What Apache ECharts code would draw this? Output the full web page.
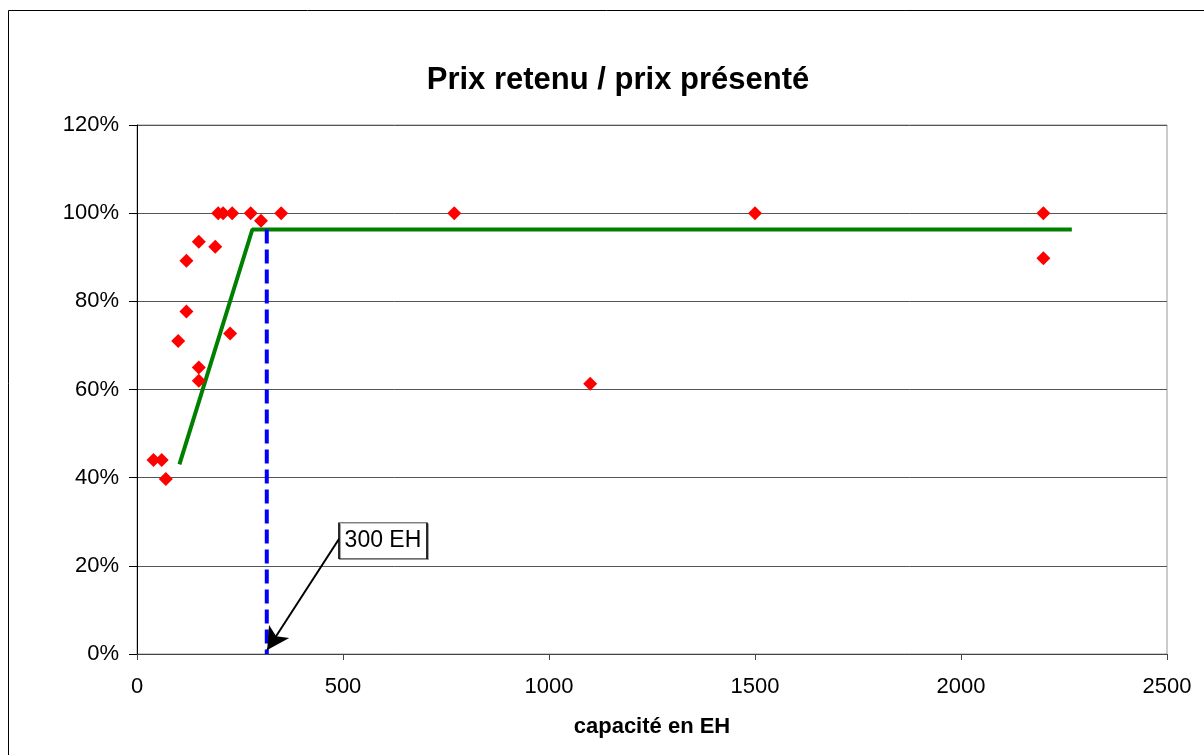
<!DOCTYPE html>
<html><head><meta charset="utf-8">
<script src="https://cdn.jsdelivr.net/npm/echarts@6/dist/echarts.min.js"></script>
<style>html,body{margin:0;padding:0;background:#fff}#c{width:1204px;height:755px}</style>
</head><body><div id="c"></div>
<script>
const capacity = [40, 60, 70, 100, 120, 120, 150, 150, 150, 190, 197, 209, 226, 231, 276, 301, 350, 770, 1100, 1500, 2200, 2200];
const ratio    = [44, 44, 39.7, 71, 77.7, 89.2, 93.5, 65, 62, 92.4, 100, 100, 72.7, 100, 100, 98.3, 100, 100, 61.3, 100, 100, 89.8];
const trendX = [103, 280, 2269];
const trendY = [43, 96.3, 96.3];
const thresholdX = 315;
const thresholdTop = 96.3;
const arrowFrom = [491, 26.2];
const arrowTo = [316, 0.9];
const labelPos = [597, 25.7];
const labelText = '300 EH';
const title = 'Prix retenu / prix présenté';
const xTitle = 'capacité en EH';

const FONT = 'Liberation Sans, Arial, sans-serif';
const chart = echarts.init(document.getElementById('c'));
chart.setOption({
  animation: false,
  backgroundColor: '#fff',
  title: { text: title, left: 613, top: 60, textAlign: 'center',
    textStyle: { fontFamily: FONT, fontSize: 31, fontWeight: 'bold', color: '#000' } },
  graphic: [{ type: 'rect', shape: { x: 8.5, y: 10.5, width: 1220, height: 800 },
    style: { fill: 'none', stroke: '#000', lineWidth: 1 }, silent: true, z: -1 }],
  grid: { left: 137, top: 125, width: 1030, height: 529, show: true, borderColor: '#999', borderWidth: 1 },
  xAxis: { type: 'value', min: 0, max: 2500, interval: 500,
    name: xTitle, nameLocation: 'middle', nameGap: 62,
    nameTextStyle: { fontFamily: FONT, fontSize: 22, fontWeight: 'bold', color: '#000' },
    axisLine: { show: true, lineStyle: { color: '#444', width: 1 } },
    axisTick: { show: true, length: 6, lineStyle: { color: '#444' } },
    axisLabel: { fontFamily: FONT, fontSize: 22, color: '#000', margin: 22, formatter: v => String(v) },
    splitLine: { show: false } },
  yAxis: { type: 'value', min: 0, max: 120, interval: 20,
    axisLine: { show: true, lineStyle: { color: '#000', width: 1 } },
    axisTick: { show: true, length: 8, lineStyle: { color: '#000' } },
    axisLabel: { fontFamily: FONT, fontSize: 22, color: '#000', formatter: '{value}%', margin: 18 },
    splitLine: { show: true, lineStyle: { color: '#555', width: 1 } } },
  series: [
    { type: 'line', data: trendX.map((x, i) => [x, trendY[i]]), symbol: 'none',
      lineStyle: { color: '#008000', width: 4 }, z: 2 },
    { type: 'line', data: [[thresholdX, thresholdTop], [thresholdX, 0]], symbol: 'none',
      lineStyle: { color: '#0000FF', width: 4, type: [14, 6] }, z: 3 },
    { type: 'scatter', data: capacity.map((x, i) => [x, ratio[i]]), symbol: 'diamond', symbolSize: 14,
      itemStyle: { color: '#FF0000', opacity: 1 }, z: 4,
      markLine: { silent: true, symbol: ['none', 'arrow'], symbolSize: [18, 22],
        lineStyle: { color: '#000', width: 2, type: 'solid' }, label: { show: false },
        data: [[{ coord: arrowFrom }, { coord: arrowTo }]] },
      markPoint: { silent: true, symbol: 'rect', symbolSize: [88, 36],
        itemStyle: { color: '#fff', borderColor: '#000', borderWidth: 1, shadowColor: '#888', shadowOffsetX: 1, shadowOffsetY: 1 },
        label: { show: true, formatter: labelText, color: '#000', fontFamily: FONT, fontSize: 23 },
        data: [{ coord: labelPos }] } }
  ]
});
</script></body></html>
